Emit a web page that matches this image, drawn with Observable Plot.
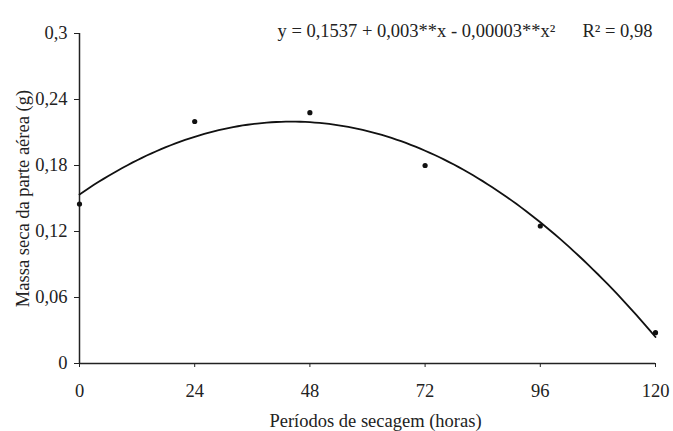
<!DOCTYPE html>
<html>
<head>
<meta charset="utf-8">
<script src="https://cdn.jsdelivr.net/npm/d3@7"></script>
<script src="https://cdn.jsdelivr.net/npm/@observablehq/plot@0.6"></script>
<style>
  html, body { margin: 0; padding: 0; background: #fff; }
  #chart svg { display: block; }
</style>
</head>
<body>
<div id="chart"></div>
<script>
// Drying periods (hours) and shoot dry mass (g)
const hours = [0, 24, 48, 72, 96, 120];
const dryMass = [0.145, 0.22, 0.228, 0.18, 0.125, 0.028];

// Axis ticks
const xTicks = [0, 24, 48, 72, 96, 120];
const yTicks = [0, 0.06, 0.12, 0.18, 0.24, 0.3];

// Quadratic regression fit
const b0 = 0.1537, b1 = 0.003, b2 = -0.000034;
const equationText = "y = 0,1537 + 0,003**x - 0,00003**x²";
const r2Text = "R² = 0,98";

const points = hours.map((h, i) => ({x: h, y: dryMass[i]}));
const fit = d3.range(0, 120.5, 1).map(x => ({x, y: b0 + b1 * x + b2 * x * x}));

const comma = d => String(+d.toFixed(2)).replace(".", ",");
const serif = "'Liberation Serif', 'Times New Roman', serif";

const chart = Plot.plot({
  width: 673,
  height: 431,
  marginLeft: 79,
  marginRight: 18,
  marginTop: 33,
  marginBottom: 68,
  style: {fontFamily: serif, fontSize: "18.5px", color: "#222", background: "#fff"},
  x: {domain: [0, 120]},
  y: {domain: [0, 0.3]},
  marks: [
    Plot.axisX({ticks: xTicks, tickFormat: d => String(d), tickSize: 4, tickPadding: 16, label: null}),
    Plot.axisY({ticks: yTicks, tickFormat: comma, tickSize: 5, tickPadding: 7,
      label: "Massa seca da parte aérea (g)", labelAnchor: "center", labelArrow: "none", labelOffset: 64}),
    Plot.ruleX([0], {stroke: "#222", strokeWidth: 1.5}),
    Plot.ruleY([0], {stroke: "#222", strokeWidth: 1.5}),
    Plot.line(fit, {x: "x", y: "y", stroke: "#111", strokeWidth: 1.8, curve: "natural"}),
    Plot.dot(points, {x: "x", y: "y", r: 2.6, fill: "#111", stroke: "none"}),
    // x-axis title, placed under the frame
    Plot.text(["Períodos de secagem (horas)"], {frameAnchor: "bottom", dx: 8, dy: 63, text: d => d, fontSize: 18.5, fill: "#222"}),
    Plot.text([equationText], {frameAnchor: "top-left", dx: 198, dy: -10, text: d => d, fontSize: 18.5, fill: "#222"}),
    Plot.text([r2Text], {frameAnchor: "top-left", dx: 503, dy: -10, text: d => d, fontSize: 18.5, fill: "#222"})
  ]
});
document.getElementById("chart").appendChild(chart);
</script>
</body>
</html>
